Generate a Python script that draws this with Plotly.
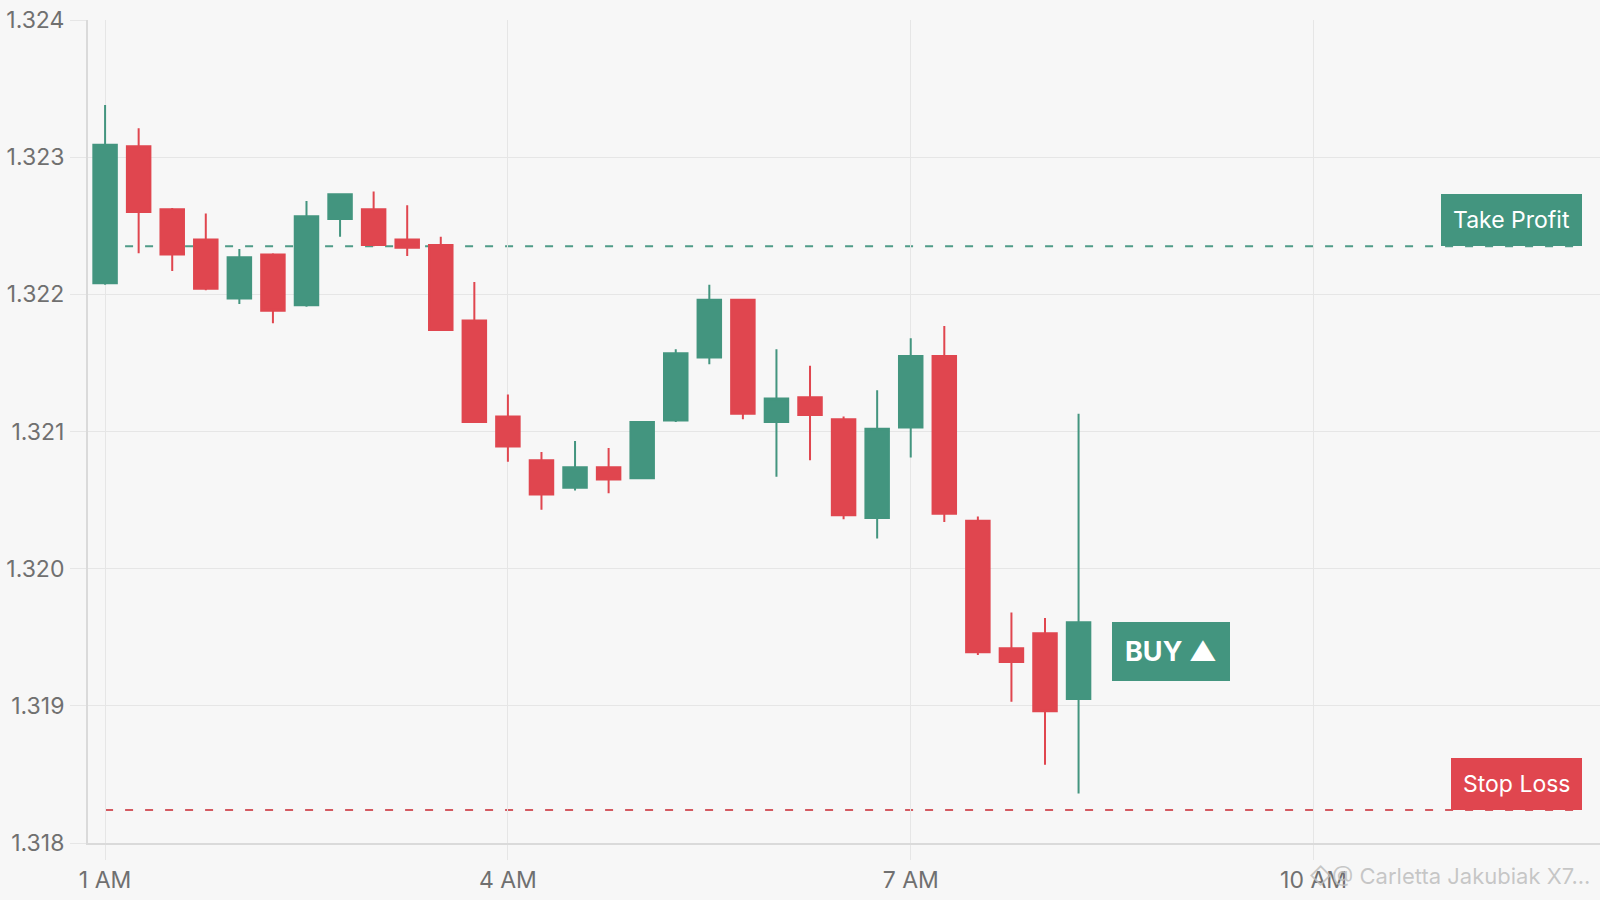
import plotly.graph_objects as go

day = "2024-01-01 "
times = ["01:00", "01:15", "01:30", "01:45", "02:00", "02:15", "02:30", "02:45",
         "03:00", "03:15", "03:30", "03:45", "04:00", "04:15", "04:30", "04:45",
         "05:00", "05:15", "05:30", "05:45", "06:00", "06:15", "06:30", "06:45",
         "07:00", "07:15", "07:30", "07:45", "08:00", "08:15"]
open_ = [1.32208, 1.32308, 1.32262, 1.32240, 1.32197, 1.32229, 1.32192, 1.32255,
         1.32262, 1.32240, 1.32236, 1.32181, 1.32111, 1.32079, 1.32059, 1.32074,
         1.32066, 1.32108, 1.32154, 1.32196, 1.32107, 1.32125, 1.32109, 1.32037,
         1.32103, 1.32155, 1.32035, 1.31942, 1.31953, 1.31905]
high = [1.32338, 1.32321, 1.32263, 1.32259, 1.32233, 1.32230, 1.32268, 1.32273,
        1.32275, 1.32265, 1.32242, 1.32209, 1.32127, 1.32085, 1.32093, 1.32088,
        1.32107, 1.32160, 1.32207, 1.32196, 1.32160, 1.32148, 1.32111, 1.32130,
        1.32168, 1.32177, 1.32038, 1.31968, 1.31964, 1.32113]
low = [1.32207, 1.32230, 1.32217, 1.32203, 1.32193, 1.32179, 1.32191, 1.32242,
       1.32235, 1.32228, 1.32174, 1.32107, 1.32078, 1.32043, 1.32057, 1.32055,
       1.32066, 1.32107, 1.32149, 1.32109, 1.32067, 1.32079, 1.32036, 1.32022,
       1.32081, 1.32034, 1.31937, 1.31903, 1.31857, 1.31836]
close = [1.32309, 1.32260, 1.32229, 1.32204, 1.32227, 1.32188, 1.32257, 1.32273,
         1.32236, 1.32234, 1.32174, 1.32107, 1.32089, 1.32054, 1.32074, 1.32065,
         1.32107, 1.32157, 1.32196, 1.32113, 1.32124, 1.32112, 1.32039, 1.32102,
         1.32155, 1.32040, 1.31939, 1.31932, 1.31896, 1.31961]

take_profit = 1.32235
stop_loss = 1.31824
y_ticks = [1.318, 1.319, 1.320, 1.321, 1.322, 1.323, 1.324]
x_tick_times = ["01:00", "04:00", "07:00", "10:00"]
x_tick_text = ["1 AM", "4 AM", "7 AM", "10 AM"]
line_end_time = "12:00"
buy_time = "08:30"

GREEN = "#43957f"
RED = "#e0464f"
GRID = "#e6e6e6"
BG = "#f7f7f7"

x = [day + t for t in times]

fig = go.Figure()
fig.add_trace(go.Candlestick(
    x=x, open=open_, high=high, low=low, close=close,
    increasing=dict(line=dict(color=GREEN, width=2), fillcolor=GREEN),
    decreasing=dict(line=dict(color=RED, width=2), fillcolor=RED),
    whiskerwidth=0, hoverinfo="skip",
))

# level lines
fig.add_shape(type="line", xref="x", yref="y", x0=x[0], x1=day + line_end_time,
              y0=take_profit, y1=take_profit, layer="below",
              line=dict(color="#4f9c88", width=2, dash="8px,12px"))
fig.add_shape(type="line", xref="x", yref="y", x0=x[0], x1=day + line_end_time,
              y0=stop_loss, y1=stop_loss, layer="below",
              line=dict(color="#d45a61", width=2, dash="8px,12px"))

fig.add_annotation(x=day + line_end_time, y=take_profit, xref="x", yref="y",
                   xanchor="right", yanchor="bottom", text="Take Profit",
                   showarrow=False, bgcolor=GREEN, borderpad=12, borderwidth=0,
                   font=dict(family="Inter", size=23, color="white"))
fig.add_annotation(x=day + line_end_time, y=stop_loss, xref="x", yref="y",
                   xanchor="right", yanchor="bottom", text="Stop Loss",
                   showarrow=False, bgcolor=RED, borderpad=12, borderwidth=0,
                   font=dict(family="Inter", size=23, color="white"))
fig.add_annotation(x=day + buy_time, y=close[-1], xref="x", yref="y",
                   xanchor="left", yanchor="top", text="<b>BUY ▲</b>",
                   showarrow=False, bgcolor=GREEN, borderpad=13, borderwidth=0,
                   font=dict(family="Inter", size=27, color="white"))
fig.add_annotation(x=0.9947, y=-0.040, xref="paper", yref="paper",
                   xanchor="right", yanchor="middle", text="◇@ Carletta Jakubiak X7...",
                   showarrow=False,
                   font=dict(family="Inter", size=22, color="rgba(190,190,190,0.85)"))

fig.update_layout(
    width=1600, height=900,
    margin=dict(l=88, r=0, t=20, b=57),
    plot_bgcolor=BG, paper_bgcolor=BG,
    showlegend=False,
    boxgap=0,
    font=dict(family="Inter", color="#707070"),
    xaxis=dict(
        type="date",
        range=[day + "00:52:22", day + "12:08:00"],
        rangeslider=dict(visible=False),
        tickvals=[day + t for t in x_tick_times], ticktext=x_tick_text,
        showgrid=True, gridcolor=GRID, gridwidth=1,
        ticks="outside", ticklen=15, tickcolor=GRID, tickwidth=1,
        showline=True, linecolor="#dadada", linewidth=2,
        tickfont=dict(size=23, color="#707070"),
        zeroline=False,
    ),
    yaxis=dict(
        range=[1.318, 1.324],
        tickvals=y_ticks, tickformat=".3f",
        showgrid=True, gridcolor=GRID, gridwidth=1,
        ticks="outside", ticklen=16, tickcolor=GRID, tickwidth=1,
        showline=True, linecolor="#dadada", linewidth=2,
        tickfont=dict(size=23, color="#707070"),
        ticklabelstandoff=1,
        zeroline=False,
    ),
)

fig.write_html("out.html", config={"displayModeBar": False},
               post_script="document.body.style.margin='0';document.body.style.overflow='hidden';")
